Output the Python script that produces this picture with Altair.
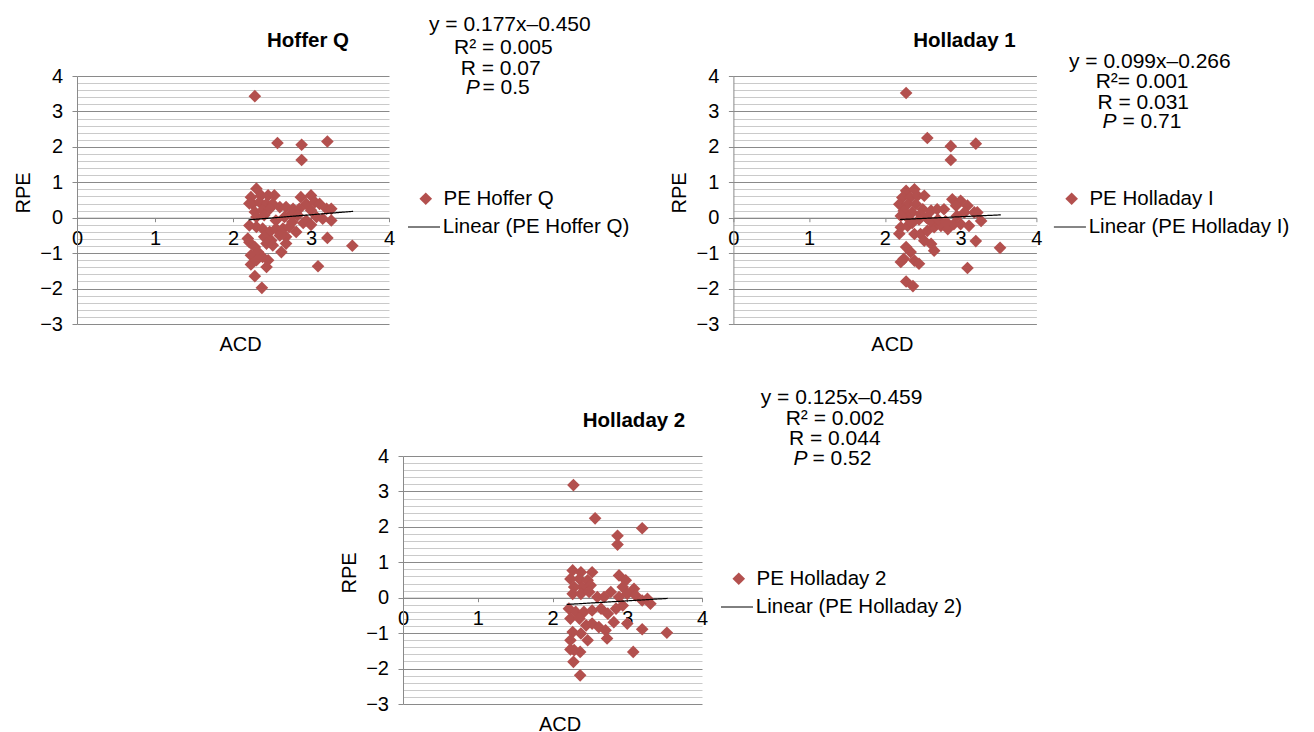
import altair as alt
import pandas as pd

FONT = "Liberation Sans"
RED = "#b3504e"
MAJOR = "#8a8a8a"
MINOR = "#cacaca"

X_TICKS = [0, 1, 2, 3, 4]
Y_GRID = [round(k * 0.2, 1) for k in range(-15, 21)]

# ---------------- Hoffer Q ----------------
ACD_HQ = [2.28, 2.57, 2.88, 2.88, 3.21, 3.53, 3.09, 2.37, 2.28, 3.21,
          2.30, 2.23, 2.36, 2.45, 2.53, 2.25, 2.34, 2.43, 2.51, 2.28, 2.38, 2.47, 2.60, 2.68, 2.77,
          2.87, 3.00, 2.94, 3.05, 3.11, 2.85, 3.20, 3.26, 2.21, 2.30, 2.55, 2.66, 2.75, 2.83, 2.94,
          3.07, 3.15, 3.26, 3.00, 2.40,
          2.21, 2.30, 2.38, 2.47, 2.55, 2.64, 2.72, 2.81, 2.40, 2.49, 2.60, 2.68, 2.21, 2.28, 2.32,
          2.23, 2.43, 2.38, 2.45, 2.62, 2.68, 2.23, 2.43, 2.30, 2.51, 2.19, 2.90, 3.00, 2.76]
RPE_HQ = [3.43, 2.11, 2.06, 1.63, 2.15, -0.79, -1.37, -1.98, -1.65, -0.57,
          0.82, 0.58, 0.63, 0.63, 0.63, 0.39, 0.44, 0.39, 0.39, 0.16, 0.21, 0.25, 0.30, 0.30, 0.25,
          0.58, 0.63, 0.39, 0.44, 0.39, 0.25, 0.25, 0.25, 0.40, 0.02, -0.08, 0.02, 0.11, 0.07, -0.08,
          0.02, -0.03, -0.08, 0.21, 0.07,
          -0.22, -0.26, -0.31, -0.40, -0.31, -0.31, -0.26, -0.40, -0.54, -0.64, -0.50, -0.54, -0.69, -0.83, -0.97,
          -1.06, -0.73, -1.11, -1.20, -0.97, -0.73, -1.32, -1.39, -1.20, -0.78, -0.59, -0.15, -0.20, -0.12]
TREND_X_HQ = [2.20, 3.54]
TREND_Y_HQ = [-0.06, 0.18]
EQ_HQ = ["y = 0.177x\u20130.450", "R\u00b2 = 0.005", "R = 0.07", "= 0.5"]

# ---------------- Holladay 1 ----------------
ACD_H1 = [2.28, 2.56, 2.87, 2.87, 3.20, 3.52, 3.09, 2.28, 2.37, 3.20,
          2.28, 2.39, 2.23, 2.34, 2.43, 2.52, 2.19, 2.30, 2.41, 2.50, 2.61, 2.69, 2.78,
          2.89, 3.00, 2.94, 3.09, 3.05, 3.18, 3.22, 3.27, 2.25, 2.36, 2.47, 2.30, 2.21,
          2.21, 2.30, 2.39, 2.47, 2.56, 2.65, 2.74, 2.83, 2.91, 3.00, 3.11, 2.52, 2.61, 2.65,
          2.28, 2.34, 2.25, 2.39, 2.45, 2.21, 2.19, 2.60, 2.70, 2.80, 2.95, 2.45, 2.55, 2.36]
RPE_H1 = [3.52, 2.25, 2.02, 1.63, 2.09, -0.85, -1.42, -1.80, -1.93, -0.66,
          0.76, 0.80, 0.57, 0.57, 0.62, 0.62, 0.38, 0.38, 0.38, 0.24, 0.20, 0.24, 0.24,
          0.52, 0.48, 0.34, 0.34, 0.15, 0.15, 0.15, -0.09, 0.20, 0.15, 0.10, 0.00, 0.05,
          -0.27, -0.23, -0.46, -0.46, -0.37, -0.27, -0.23, -0.32, -0.18, -0.18, -0.23, -0.65, -0.74, -0.93,
          -0.83, -0.97, -1.16, -1.21, -1.30, -1.25, -0.45, -0.10, -0.05, -0.10, 0.05, -0.05, 0.00, -0.15]
TREND_X_H1 = [2.20, 3.53]
TREND_Y_H1 = [-0.05, 0.08]
EQ_H1 = ["y = 0.099x\u20130.266", "R\u00b2= 0.001", "R = 0.031", "= 0.71"]

# ---------------- Holladay 2 ----------------
ACD_H2 = [2.28, 2.57, 2.87, 2.87, 3.20, 3.53, 3.08, 2.28, 2.37, 2.37, 3.20, 2.24,
          2.27, 2.38, 2.53, 2.24, 2.36, 2.47, 2.29, 2.40, 2.51, 2.27, 2.38, 2.49, 2.60,
          2.69, 2.78, 2.89, 2.98, 3.09, 2.94, 3.00, 3.11, 3.27, 3.20, 3.31, 2.89,
          2.22, 2.31, 2.42, 2.53, 2.65, 2.74, 2.85, 2.94, 2.24, 2.36, 2.45, 2.53, 2.62,
          2.71, 2.82, 2.27, 2.38, 2.47, 2.24, 2.29, 2.73, 3.00]
RPE_H2 = [3.18, 2.24, 1.75, 1.50, 1.96, -0.99, -1.53, -1.81, -2.19, -1.53, -0.89, -1.46,
          0.77, 0.72, 0.72, 0.53, 0.53, 0.49, 0.30, 0.30, 0.35, 0.11, 0.11, 0.16, 0.02,
          0.02, 0.16, 0.63, 0.49, 0.25, 0.30, 0.11, 0.07, -0.03, -0.08, -0.17, 0.02,
          -0.31, -0.40, -0.40, -0.36, -0.31, -0.45, -0.31, -0.22, -0.59, -0.59, -0.78, -0.73, -0.83,
          -0.92, -0.69, -0.97, -1.01, -1.20, -1.20, -1.48, -1.15, -0.73]
TREND_X_H2 = [2.19, 3.54]
TREND_Y_H2 = [-0.19, -0.02]
EQ_H2 = ["y = 0.125x\u20130.459", "R\u00b2 = 0.002", "R = 0.044", "= 0.52"]

HEIGHT = 248


def txt(s, x, y, size=21, weight="normal", style="normal", align="left"):
    return alt.Chart(pd.DataFrame({"t": [s]})).mark_text(
        align=align, baseline="alphabetic", font=FONT, fontSize=size,
        fontWeight=weight, fontStyle=style, color="black"
    ).encode(x=alt.value(x), y=alt.value(y), text="t:N")


def panel(acd, rpe, tx, ty, title, pt_label, line_label, eq, eq_x, eq_y, eqv_x, width, leg_gap):
    pts = pd.DataFrame({"ACD": acd, "RPE": rpe, "series": pt_label})
    trend = pd.DataFrame({"ACD": tx, "RPE": ty, "trend": line_label})
    xs = alt.Scale(domain=[0, 4], nice=False, zero=False)
    ys = alt.Scale(domain=[-3, 4], nice=False, zero=False)
    xaxis = alt.Axis(values=X_TICKS, grid=False, offset=-HEIGHT * 3 / 7, tickSize=4,
                     labelPadding=6.5, labelFlush=False, title="ACD",
                     titleX=width / 2 + 7, titleY=126.3, titleBaseline="middle",
                     titleAlign="center", format="d")
    yaxis = alt.Axis(values=Y_GRID, tickCount=100, grid=True, format=".0f",
                     gridColor={"condition": {"test": "datum.value % 1 === 0", "value": MAJOR},
                                "value": MINOR},
                     tickOpacity={"condition": {"test": "datum.value % 1 === 0", "value": 1},
                                  "value": 0},
                     tickSize=5, labelPadding=9.5, labelOverlap=False, labelFlush=False,
                     labelExpr="datum.value % 1 === 0 ? datum.label : ''",
                     title="RPE", titleX=-54, titleY=116.4, titleAngle=270,
                     titleBaseline="middle", titleAlign="center")
    leg_start = width + leg_gap
    points = alt.Chart(pts).mark_point(shape="diamond", filled=True, size=160, opacity=1).encode(
        x=alt.X("ACD:Q", scale=xs, axis=xaxis),
        y=alt.Y("RPE:Q", scale=ys, axis=yaxis),
        color=alt.Color("series:N", scale=alt.Scale(domain=[pt_label], range=[RED]),
                        legend=alt.Legend(title=None, orient="none", legendX=leg_start + 8,
                                          legendY=112.5, symbolType="diamond", symbolSize=160,
                                          symbolStrokeWidth=0, labelOffset=7.5, padding=0,
                                          labelLimit=0)),
    )
    line = alt.Chart(trend).mark_line(color="black", strokeWidth=1.2).encode(
        x=alt.X("ACD:Q", scale=xs),
        y=alt.Y("RPE:Q", scale=ys),
        strokeDash=alt.StrokeDash("trend:N", scale=alt.Scale(domain=[line_label], range=[[1, 0]]),
                                  legend=alt.Legend(title=None, orient="none", legendX=leg_start,
                                                    legendY=134.5, symbolType="stroke",
                                                    symbolSize=1024, symbolStrokeColor="black",
                                                    symbolStrokeWidth=1, labelOffset=2.3,
                                                    padding=0, labelLimit=0)),
    )
    texts = [txt(title, 231, -29.5, size=20.5, weight="bold", align="center")]
    for i in range(3):
        texts.append(txt(eq[i], eq_x[i], eq_y[i]))
    texts.append(txt("P", eq_x[3], eq_y[3], style="italic"))
    texts.append(txt(eq[3], eqv_x, eq_y[3]))
    return alt.layer(points, line, *texts).properties(width=width, height=HEIGHT)


p1 = panel(ACD_HQ, RPE_HQ, TREND_X_HQ, TREND_Y_HQ, "Hoffer Q", "PE Hoffer Q",
           "Linear (PE Hoffer Q)", EQ_HQ, [352, 377, 383.7, 388.7], [-45.3, -22, -1.3, 18],
           405.4, 312, 18.5)
p2 = panel(ACD_H1, RPE_H1, TREND_X_H1, TREND_Y_H1, "Holladay 1", "PE Holladay I",
           "Linear (PE Holladay I)", EQ_H1, [335.6, 362.3, 364, 369], [-7.7, 12.3, 33.3, 52.3],
           389, 303, 17)
p3 = panel(ACD_H2, RPE_H2, TREND_X_H2, TREND_Y_H2, "Holladay 2", "PE Holladay 2",
           "Linear (PE Holladay 2)", EQ_H2, [357.7, 382.7, 386, 390.4], [-52, -31.3, -11.3, 8.7],
           409.4, 299, 18.5)

SPACER_W = 300
spacer = alt.Chart(pd.DataFrame({"v": [0]})).mark_rect(opacity=0).encode(
    x=alt.value(0), x2=alt.value(SPACER_W), y=alt.value(0), y2=alt.value(HEIGHT)
).properties(width=SPACER_W, height=HEIGHT)

top = alt.hconcat(p1, p2, spacing=344.4, bounds="flush").resolve_scale(
    color="independent", strokeDash="independent")
bottom = alt.hconcat(spacer, p3, spacing=326 - SPACER_W, bounds="flush").resolve_scale(
    color="independent", strokeDash="independent")

chart = alt.vconcat(top, bottom, spacing=32, bounds="full").resolve_scale(
    color="independent", strokeDash="independent"
).configure_view(stroke=None).configure_axis(
    labelFont=FONT, labelFontSize=20, labelColor="black",
    titleFont=FONT, titleFontSize=20, titleFontWeight="normal", titleColor="black",
    domainColor=MAJOR, tickColor=MAJOR, domainWidth=1, gridWidth=1
).configure_legend(
    labelFont=FONT, labelFontSize=20.5, labelColor="black"
).properties(background="white")

chart.save("out.html", embed_options={"renderer": "svg", "actions": False})
